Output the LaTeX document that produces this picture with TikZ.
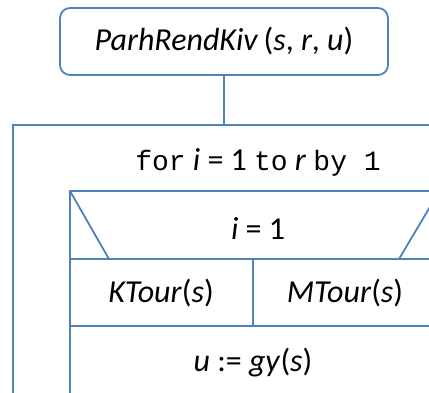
\documentclass[tikz,border=0pt]{standalone}
\usepackage{fontspec}
\setmainfont{Carlito}
\newfontfamily\codefont{Liberation Mono}
\usetikzlibrary{positioning}
\definecolor{nsblue}{RGB}{79,129,189}

\newcommand{\kwd}[1]{{\codefont\fontsize{28}{33}\selectfont #1}}

\begin{document}
\begin{tikzpicture}[x=1pt,y=-1pt,line width=1.8pt,
    nsline/.style={draw=nsblue},
    txt/.style={font=\fontsize{32}{38}\selectfont, inner sep=0pt}]
  \useasboundingbox (0,0) rectangle (429,392);
  \clip (0,0) rectangle (429,392);

  % Procedure header
  \node[nsline, rounded corners=10pt, minimum width=328pt, minimum height=67pt,
        txt] (head) at (224,41.5) {\textit{ParhRendKiv}\,(\textit{s}, \textit{r}, \textit{u})};

  % Loop frame
  \coordinate (looptop) at (224,125);
  \draw[nsline] (440,125) -- (13,125) -- (13,400);
  \draw[nsline] (head.south) -- (looptop);
  \node[txt] (loop) at (258,162)
    {\kwd{for} \textit{i} = 1 \kwd{to} \textit{r} \kwd{by 1}};

  % Parallel block
  \coordinate (pleft) at (70,191);
  \draw[nsline] (440,191) -- (pleft) -- (70,400);
  \draw[nsline] (pleft) -- (109,259);
  \draw[nsline] (440,190) -- (399,259);
  \draw[nsline] (70,259) -- (440,259);
  \draw[nsline] (253,259) -- (253,326);
  \draw[nsline] (70,326) -- (440,326);
  \node[txt] (cond) at (258,228) {\textit{i} = 1};
  \node[txt] (ktour) at (161,293) {\textit{KTour}(\textit{s})};
  \node[txt] (mtour) at (345,293) {\textit{MTour}(\textit{s})};
  \node[txt] (assign) at (253,363) {\textit{u} := \textit{gy}(\textit{s})};
\end{tikzpicture}
\end{document}
